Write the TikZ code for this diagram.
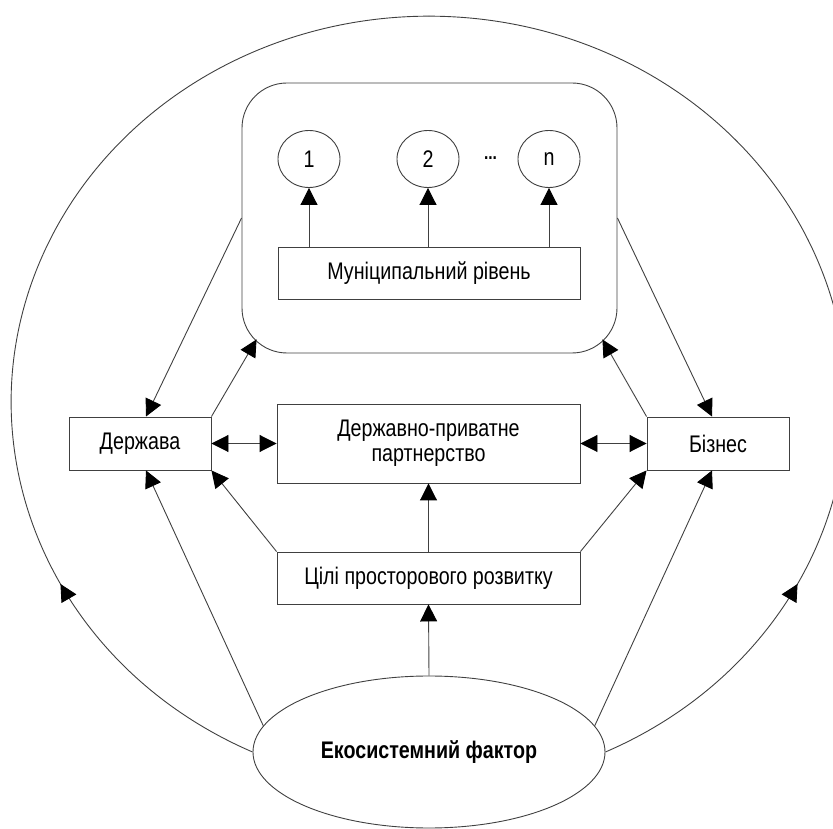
\documentclass[tikz,border=0pt]{standalone}
\usepackage{fontspec}
\setmainfont{Liberation Sans}[FakeStretch=0.82]
\usetikzlibrary{arrows.meta,shapes.geometric,decorations.markings}

\tikzset{
  every node/.style={font=\fontsize{24}{25}\selectfont},
  box/.style={draw=black!75, line width=0.9pt, rectangle, inner sep=0pt, align=center},
  oval/.style={draw=black!75, line width=0.9pt, ellipse, inner sep=0pt},
  link/.style={draw=black!75, line width=0.9pt},
  head/.tip={Triangle[length=17pt 0,width=17pt 0,color=black]},
  tip/.style={-head},
  dtip/.style={head-head},
  midtip/.style={postaction={decorate},
    decoration={markings, mark=at position #1 with {\arrow{head}}}},
}

\begin{document}
\begin{tikzpicture}[x=1pt,y=1pt]
  \useasboundingbox (0,0) rectangle (833,828);

  % municipal container with its territorial units
  \node[box, rounded corners=45pt, minimum width=375, minimum height=270] (mun) at (429.5,610) {};
  \node[oval, minimum width=62, minimum height=57] (c1) at (309,669) {1};
  \node[oval, minimum width=62, minimum height=57] (c2) at (428,669) {2};
  \node[oval, minimum width=62, minimum height=57] (cn) at (549,669) {n};
  \node[anchor=base, inner sep=0pt, font=\fontsize{19}{19}\selectfont\bfseries] (dots) at (490.5,668) {...};
  \node[box, minimum width=302, minimum height=52] (lvl) at (429,555) {Муніципальний рівень};

  % actors
  \node[box, minimum width=142, minimum height=53] (dz) at (140,384.5) {Держава};
  \node[box, minimum width=303, minimum height=79] (ppp) at (428.5,384.5) {Державно-приватне\\партнерство};
  \node[box, minimum width=142, minimum height=53] (biz) at (718,384.5) {Бізнес};
  \node[box, minimum width=303, minimum height=52] (goals) at (428.5,250) {Цілі просторового розвитку};
  \node[oval, minimum width=352, minimum height=152, font=\fontsize{24}{25}\selectfont\bfseries] (eco) at (429,76) {Екосистемний фактор};

  % level to units
  \draw[link, tip] (lvl.north -| c1) -- (c1.south);
  \draw[link, tip] (lvl.north -| c2) -- (c2.south);
  \draw[link, tip] (lvl.north -| cn) -- (cn.south);

  % municipal level and actors
  \draw[link, tip] (mun.west) -- ([xshift=6pt]dz.north);
  \draw[link, tip] (dz.north east) -- ([shift={(15,14)}]mun.south west);
  \draw[link, tip] (mun.east) -- ([xshift=-6pt]biz.north);
  \draw[link, tip] (biz.north west) -- ([shift={(-15,14)}]mun.south east);

  % partnership
  \draw[link, dtip] (dz.east) -- (ppp.west);
  \draw[link, dtip] (ppp.east) -- (biz.west);

  % goals
  \draw[link, tip] (goals.north) -- (ppp.south);
  \draw[link, tip] (goals.north west) -- (dz.south east);
  \draw[link, tip] (goals.north east) -- (biz.south west);

  % ecosystem factor
  \draw[link, tip] (eco.north) -- (goals.south);
  \draw[link, tip] (eco.171) -- ([xshift=6pt]dz.south);
  \draw[link, tip] (eco.9) -- ([xshift=-6pt]biz.south);

  % enclosing loops from the ecosystem factor
  \coordinate (top) at (429,814);
  \draw[link, midtip=0.24] (eco.west) arc[start angle=245, end angle=90, x radius=418, y radius=386];
  \draw[link, midtip=0.24] (eco.east) arc[start angle=-65, end angle=90, x radius=418, y radius=386];
\end{tikzpicture}
\end{document}
